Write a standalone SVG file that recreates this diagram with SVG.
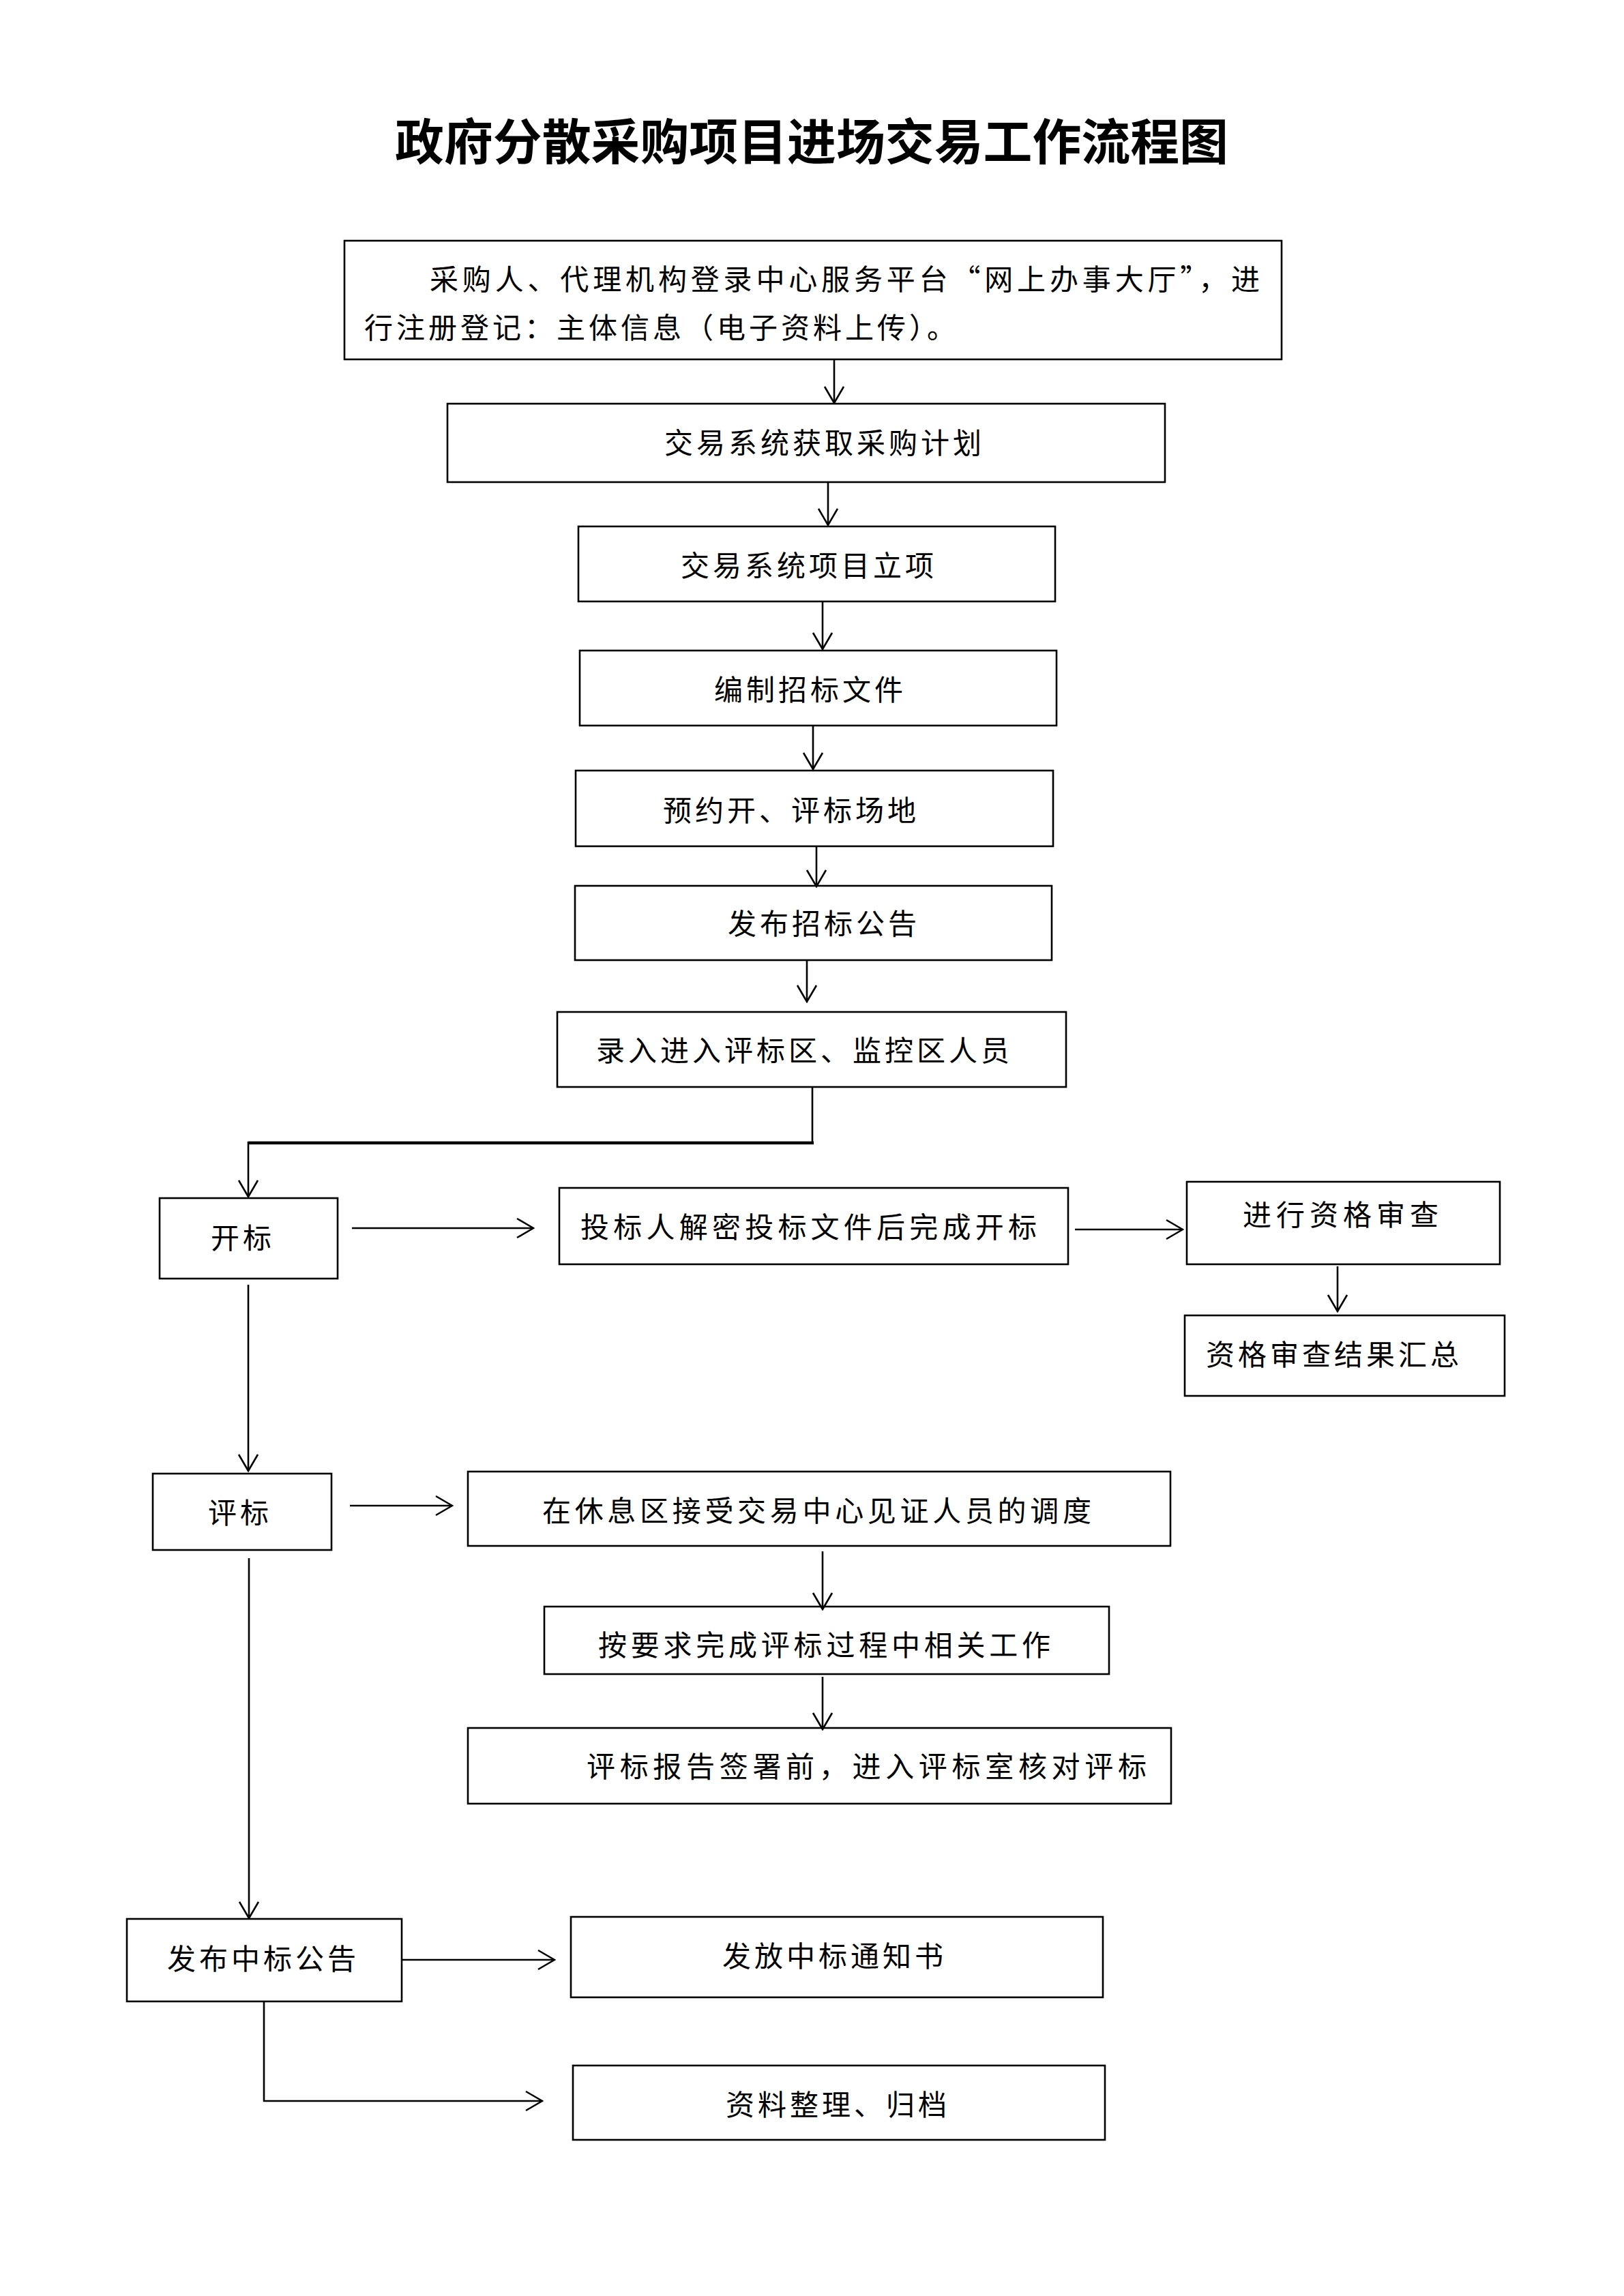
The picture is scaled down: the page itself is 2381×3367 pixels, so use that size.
<svg xmlns="http://www.w3.org/2000/svg" width="2381" height="3367" viewBox="0 0 2381 3367">
<style>
.bx{fill:#fff;stroke:#000;stroke-width:2.6}
.t{font-family:"Noto Sans CJK SC","Noto Sans CJK JP",sans-serif;font-size:42px;letter-spacing:5px;fill:#000}
.ttl{font-family:"Noto Sans CJK SC","Noto Sans CJK JP",sans-serif;font-size:72px;font-weight:bold;fill:#000}
.c{fill:none;stroke:#000;stroke-width:2.6}
.cb{fill:none;stroke:#000;stroke-width:4.5}
</style>
<defs>
<marker id="ah" markerUnits="userSpaceOnUse" viewBox="0 0 28 32" markerWidth="28" markerHeight="32" refX="26" refY="16" orient="auto">
<path d="M2,2 L26,16 L2,30" fill="none" stroke="#000" stroke-width="2.6"/>
</marker>
</defs>
<rect width="2381" height="3367" fill="#fff"/>
<text id="title" class="ttl" x="579" y="234" textLength="1222" lengthAdjust="spacingAndGlyphs">政府分散采购项目进场交易工作流程图</text>

<g id="n1"><rect class="bx" x="505" y="353" width="1374" height="174"/>
<text class="t" x="630" y="425" textLength="1222">采购人、代理机构登录中心服务平台“网上办事大厅”，进</text>
<text class="t" x="534" y="496">行注册登记：主体信息（电子资料上传）。</text></g>
<g id="n2"><rect class="bx" x="656" y="592" width="1052" height="115"/><text class="t" x="974" y="665">交易系统获取采购计划</text></g>
<g id="n3"><rect class="bx" x="848" y="772" width="699" height="110"/><text class="t" x="998" y="845">交易系统项目立项</text></g>
<g id="n4"><rect class="bx" x="850" y="954" width="699" height="110"/><text class="t" x="1047" y="1027">编制招标文件</text></g>
<g id="n5"><rect class="bx" x="844" y="1130" width="700" height="111"/><text class="t" x="972" y="1204">预约开、评标场地</text></g>
<g id="n6"><rect class="bx" x="843" y="1299" width="699" height="109"/><text class="t" x="1067" y="1370">发布招标公告</text></g>
<g id="n7"><rect class="bx" x="817" y="1484" width="746" height="110"/><text class="t" x="874" y="1556">录入进入评标区、监控区人员</text></g>
<g id="n8"><rect class="bx" x="234" y="1757" width="261" height="118"/><text class="t" x="309" y="1831">开标</text></g>
<g id="n9"><rect class="bx" x="820" y="1742" width="746" height="112"/><text class="t" x="851" y="1815" textLength="674">投标人解密投标文件后完成开标</text></g>
<g id="n10"><rect class="bx" x="1740" y="1733" width="459" height="121"/><text class="t" x="1822" y="1797" textLength="292">进行资格审查</text></g>
<g id="n11"><rect class="bx" x="1737" y="1929" width="469" height="118"/><text class="t" x="1768" y="2002">资格审查结果汇总</text></g>
<g id="n12"><rect class="bx" x="224" y="2161" width="262" height="112"/><text class="t" x="305" y="2234">评标</text></g>
<g id="n13"><rect class="bx" x="686" y="2158" width="1030" height="109"/><text class="t" x="795" y="2231" textLength="810">在休息区接受交易中心见证人员的调度</text></g>
<g id="n14"><rect class="bx" x="798" y="2356" width="828" height="99"/><text class="t" x="877" y="2428" textLength="668">按要求完成评标过程中相关工作</text></g>
<g id="n15"><rect class="bx" x="686" y="2534" width="1031" height="111"/><text class="t" x="860" y="2606" textLength="826">评标报告签署前，进入评标室核对评标</text></g>
<g id="n16"><rect class="bx" x="186" y="2814" width="403" height="121"/><text class="t" x="245" y="2888">发布中标公告</text></g>
<g id="n17"><rect class="bx" x="837" y="2811" width="780" height="118"/><text class="t" x="1059" y="2884">发放中标通知书</text></g>
<g id="n18"><rect class="bx" x="840" y="3029" width="780" height="109"/><text class="t" x="1064" y="3102">资料整理、归档</text></g>

<g id="connectors">
<path class="c" d="M1223,527 V591" marker-end="url(#ah)"/>
<path class="c" d="M1214,707 V770" marker-end="url(#ah)"/>
<path class="c" d="M1206,882 V952" marker-end="url(#ah)"/>
<path class="c" d="M1192,1064 V1128" marker-end="url(#ah)"/>
<path class="c" d="M1197,1241 V1300" marker-end="url(#ah)"/>
<path class="c" d="M1183,1408 V1469" marker-end="url(#ah)"/>
<path class="c" d="M1191,1594 V1676"/>
<path class="cb" d="M1193,1676 H364"/>
<path class="c" d="M364,1674 V1755" marker-end="url(#ah)"/>
<path class="c" d="M516,1801 H782" marker-end="url(#ah)"/>
<path class="c" d="M1576,1803 H1734" marker-end="url(#ah)"/>
<path class="c" d="M1961,1857 V1923" marker-end="url(#ah)"/>
<path class="c" d="M364,1884 V2157" marker-end="url(#ah)"/>
<path class="c" d="M513,2208 H663" marker-end="url(#ah)"/>
<path class="c" d="M1206,2275 V2360" marker-end="url(#ah)"/>
<path class="c" d="M1206,2459 V2536" marker-end="url(#ah)"/>
<path class="c" d="M365,2285 V2813" marker-end="url(#ah)"/>
<path class="c" d="M589,2874 H813" marker-end="url(#ah)"/>
<path class="c" d="M387,2935 V3081 H795" marker-end="url(#ah)"/>
</g>
</svg>
